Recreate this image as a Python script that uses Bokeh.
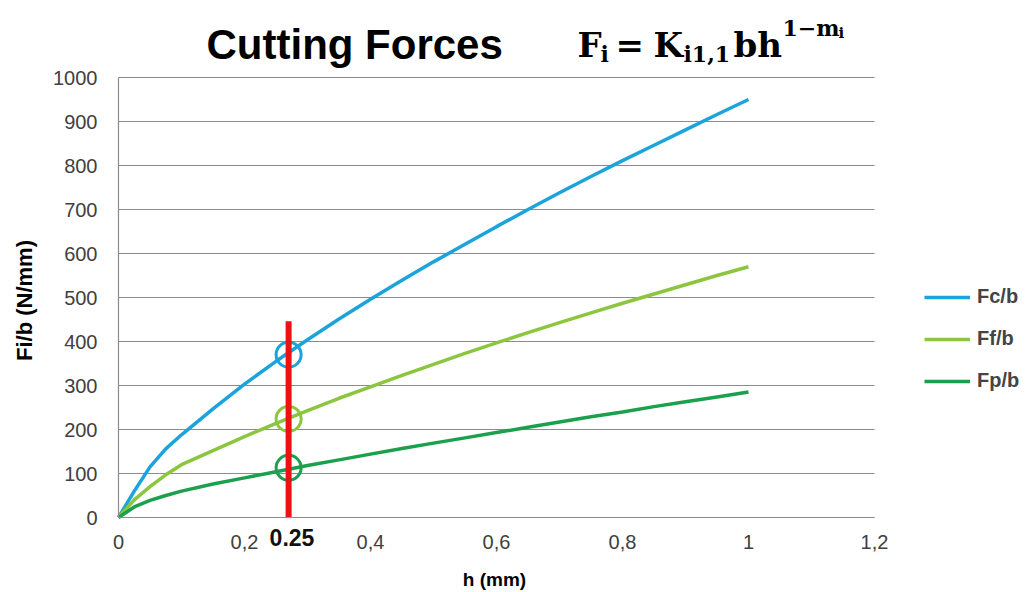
from bokeh.plotting import figure
from bokeh.models import (Range1d, FixedTicker, CustomJSTickFormatter, Label,
                          Legend, LegendItem)
from bokeh.embed import file_html
from bokeh.resources import INLINE

# ---- data ----
h_mm = [0, 0.025, 0.05, 0.075, 0.1, 0.15, 0.2, 0.25, 0.3, 0.35, 0.4, 0.45, 0.5,
        0.55, 0.6, 0.65, 0.7, 0.75, 0.8, 0.85, 0.9, 0.95, 1.0]
fc_b = [0, 60, 115, 156, 188, 247, 303, 355, 404, 451, 496, 539, 581,
        621, 661, 700, 738, 775, 811, 846, 881, 916, 950]
ff_b = [0, 40, 70, 97, 120, 152, 184, 214, 243, 271, 297, 323, 348,
        373, 397, 420, 443, 465, 487, 508, 529, 550, 570]
fp_b = [0, 24, 39, 50, 60, 76, 90, 104, 118, 131, 144, 157, 169,
        181, 193, 205, 217, 229, 240, 252, 263, 274, 285]
series_names = ["Fc/b", "Ff/b", "Fp/b"]
series_colors = ["#1BA3DC", "#8CC63F", "#1BA04E"]

marker_h = [0.27, 0.27]
marker_line = [0, 446]
marker_label = "0.25"
circle_h = [0.27, 0.27, 0.27]
circle_vals = [370, 224, 113]

x_ticks = [0, 0.2, 0.4, 0.6, 0.8, 1.0, 1.2]
y_ticks = [0, 100, 200, 300, 400, 500, 600, 700, 800, 900, 1000]
x_max = 1.2
y_max = 1000

title_text = "Cutting Forces"
x_title = "h (mm)"
y_title = "Fi/b (N/mm)"

GRID = "#8c8c8c"
TICK_COL = "#404040"
SANS = "Liberation Sans"
SERIF = "DejaVu Serif"

# the frame fills the page; the room around the data area holds the
# title, legend and axis texts; axes are pinned at 0 and bounded to the data
p = figure(width=1030, height=592, output_backend="svg", toolbar_location=None,
           x_range=Range1d(-0.1873, 1.4476), y_range=Range1d(-170.45, 1175),
           min_border_left=0, min_border_right=0,
           min_border_top=0, min_border_bottom=0)
p.outline_line_color = None
p.background_fill_color = "white"
p.border_fill_color = "white"

p.xgrid.grid_line_color = None
p.yaxis.ticker = FixedTicker(ticks=y_ticks)
p.xaxis.ticker = FixedTicker(ticks=x_ticks)
p.yaxis.bounds = (0, y_max)
p.xaxis.bounds = (0, x_max)
p.xaxis.fixed_location = 0
p.yaxis.fixed_location = 0

ygrid = p.ygrid[0]
if "cross_bounds" in ygrid.properties():
    ygrid.cross_bounds = (0, x_max)
    ygrid.bounds = (0, y_max)
    ygrid.grid_line_color = GRID
    ygrid.grid_line_width = 1.2
else:
    ygrid.grid_line_color = None
    p.segment(x0=[0] * len(y_ticks), x1=[x_max] * len(y_ticks),
              y0=y_ticks, y1=y_ticks, line_color=GRID, line_width=1.2)

p.xaxis.formatter = CustomJSTickFormatter(
    code="var s = (Math.round(tick*10)/10).toString(); return s.replace('.', ',');")

for ax in (p.xaxis, p.yaxis):
    ax.major_tick_in = 0
    ax.major_tick_out = 0
    ax.minor_tick_in = 0
    ax.minor_tick_out = 0
    ax.axis_line_color = GRID
    ax.axis_line_width = 1.2
    ax.major_label_text_font = SANS
    ax.major_label_text_font_size = "20px"
    ax.major_label_text_color = TICK_COL

p.xaxis.major_label_standoff = 17
p.yaxis.major_label_standoff = 21

items = []
for vals, name, col in zip([fc_b, ff_b, fp_b], series_names, series_colors):
    r = p.line(h_mm, vals, line_color=col, line_width=3.5)
    items.append(LegendItem(label=name, renderers=[r]))

p.scatter(circle_h, circle_vals, marker="circle", size=25, fill_alpha=0,
          line_color=series_colors, line_width=3)
p.line(marker_h, marker_line, line_color="#EE1111", line_width=6)

legend = Legend(items=items, location=(924, 200), padding=0, margin=0,
                spacing=19, glyph_width=46, glyph_height=20, label_height=20,
                label_standoff=7, label_text_font=SANS,
                label_text_font_style="bold", label_text_font_size="20px",
                border_line_color=None, background_fill_alpha=0)
p.add_layout(legend)


# titles, formula and marker text: positions given in page pixels
def ix(px):
    return (px - 118) / 630.0


def iy(py):
    return (517 - py) / 0.44


def add_text(txt, px, py, size, font, align="left", baseline="alphabetic",
             color="black", angle=0.0):
    p.add_layout(Label(x=ix(px), y=iy(py), text=txt, text_align=align,
                       text_baseline=baseline, text_font=font,
                       text_font_style="bold", text_font_size=size,
                       text_color=color, angle=angle))


add_text(x_title, 494, 579, "19px", SANS, align="center", baseline="middle")
add_text(y_title, 24, 300, "22px", SANS, align="center", baseline="middle",
         angle=1.5707963)
add_text(marker_label, 291.5, 536.5, "23px", SANS, align="center",
         baseline="middle", color="#111111")
add_text(title_text, 206, 44, "42px", SANS)
add_text("F", 577, 44, "34px", SERIF)
add_text("i", 600, 53, "22px", SERIF)
add_text("=", 615, 44, "34px", SERIF)
add_text("K", 653, 44, "34px", SERIF)
add_text("i1,1", 683, 53, "22px", SERIF)
add_text("bh", 733, 44, "34px", SERIF)
add_text("1\u2212m", 782, 27, "22px", SERIF)
add_text("i", 838, 32, "15px", SERIF)

open("out.html", "w").write(file_html(p, INLINE))
